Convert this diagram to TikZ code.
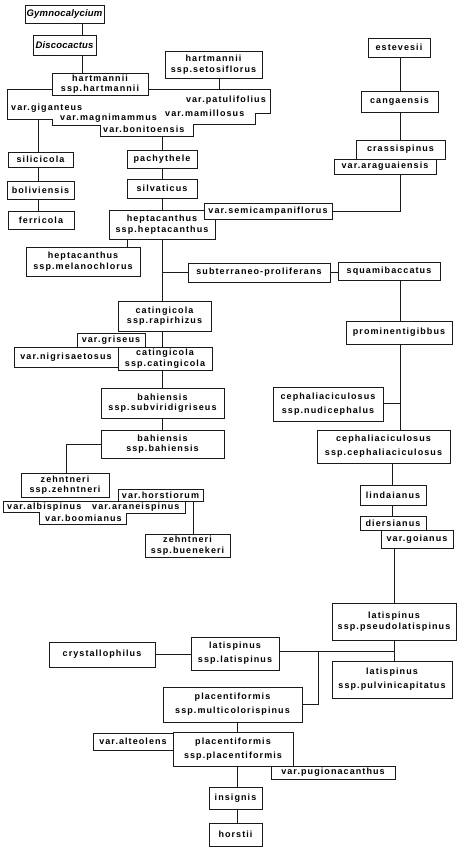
\documentclass[tikz,border=0pt]{standalone}
\usepackage{fontspec}
\newfontfamily\lbl{Liberation Sans}[LetterSpace=12]
\newfontfamily\ital{Liberation Sans}[LetterSpace=2]
\definecolor{ink}{HTML}{1A1A1A}
\tikzset{
  box/.style={draw=ink, line width=0.8pt, fill=white, inner sep=0pt, align=center,
    font=\lbl\bfseries\fontsize{9}{10.5}\selectfont},
  wide/.style={font=\lbl\bfseries\fontsize{9}{14}\selectfont},
  gen/.style={font=\ital\bfseries\itshape\fontsize{9.5}{11}\selectfont},
  lab/.style={inner sep=0pt, font=\lbl\bfseries\fontsize{9}{10.5}\selectfont},
  link/.style={draw=ink, line width=0.8pt},
  outline/.style={draw=ink, line width=0.8pt, fill=white},
}
% #1 options, #2 name, #3 x1, #4 y1, #5 x2, #6 y2, #7 text
\newcommand{\mybox}[7][]{%
  \node[box,#1,minimum width={(#5-#3)*1pt},minimum height={(#6-#4)*1pt}]
    (#2) at ({(#3+#5)/2},{(#4+#6)/2}) {#7};}
\begin{document}
\begin{tikzpicture}[x=1pt,y=-1pt]
\useasboundingbox (0,0) rectangle (458,850);
% helper coordinates for vertical connector lines
\coordinate (xA) at (82,0);
\coordinate (xL) at (38,0);
\coordinate (xM) at (162,0);
\coordinate (xH) at (127,0);
\coordinate (xR) at (400,0);
\coordinate (xC) at (392,0);
\coordinate (xD) at (394,0);
\coordinate (xP) at (237,0);
\coordinate (xZ) at (66,0);
\coordinate (xB) at (193,0);
\coordinate (vT) at (219,89);
\coordinate (vL) at (38,119);
\coordinate (vB) at (162,136);
\coordinate (jn) at (394,651);
\coordinate (br) at (318,651);

% compound variety outlines
\draw[outline] (7,89) -- (270,89) -- (270,113) -- (255,113) -- (255,124) -- (193,124)
  -- (193,136) -- (100,136) -- (100,125) -- (52,125) -- (52,119) -- (7,119) -- cycle;
\draw[outline] (3,501) -- (185,501) -- (185,513) -- (126,513) -- (126,524) -- (39,524)
  -- (39,512) -- (3,512) -- cycle;

% connectors passing behind boxes
\draw[link] (vL) -- (38,152);
\draw[link] (vB) -- (162,150);
\draw[link] (400,174) |- (332,211);
\draw[link] (162,239) -- (162,301);
\draw[link] (162,272.5) -- (188,272.5);
\draw[link] (400,280) -- (400,430);
\draw[link] (383,403) -- (400,403);
\draw[link] (394,548) -- (394,661);
\draw[link] (279,651) -- (jn);
\draw[link] (br) |- (302,704.5);
\draw[link] (101,444) -| (66,473);
\draw[link] (193,501) -- (193,534);

% nodes
\mybox[gen]{gym}{25}{5}{104}{23}{Gymnocalycium}
\mybox[gen]{disco}{33}{35}{96}{55}{Discocactus}
\mybox{hart}{52}{73}{148}{95}{hartmannii\\ssp.hartmannii}
\mybox{seto}{165}{51}{262}{78}{hartmannii\\ssp.setosiflorus}
\mybox{estev}{368}{38}{430}{57}{estevesii}
\mybox{canga}{361}{91}{438}{112}{cangaensis}
\mybox{crass}{356}{140}{445}{159}{crassispinus}
\mybox{arag}{334}{159}{436}{174}{var.araguaiensis}
\mybox{sili}{8}{152}{73}{167}{silicicola}
\mybox{boli}{7}{181}{74}{199}{boliviensis}
\mybox{ferr}{8}{211}{74}{229}{ferricola}
\mybox{pachy}{127}{150}{197}{168}{pachythele}
\mybox{silv}{127}{179}{197}{198}{silvaticus}
\mybox{hepta}{109}{210}{215}{239}{heptacanthus\\ssp.heptacanthus}
\mybox{semi}{204}{203}{332}{219}{var.semicampaniflorus}
\mybox{melano}{26}{247}{140}{276}{heptacanthus\\ssp.melanochlorus}
\mybox{subter}{188}{263}{330}{282}{subterraneo-proliferans}
\mybox{squami}{338}{262}{440}{280}{squamibaccatus}
\mybox{rapir}{118}{301}{211}{331}{catingicola\\ssp.rapirhizus}
\mybox{gris}{77}{333}{145}{347}{var.griseus}
\mybox{nigri}{14}{347}{118}{367}{var.nigrisaetosus}
\mybox{cating}{118}{347}{212}{370}{catingicola\\ssp.catingicola}
\mybox{subvir}{101}{388}{224}{418}{bahiensis\\ssp.subviridigriseus}
\mybox{bahi}{101}{430}{224}{458}{bahiensis\\ssp.bahiensis}
\mybox{zehnt}{21}{473}{109}{497}{zehntneri\\ssp.zehntneri}
\mybox{horst}{118}{489}{203}{501}{var.horstiorum}
\mybox{buenek}{145}{534}{230}{557}{zehntneri\\ssp.buenekeri}
\mybox{promin}{346}{321}{452}{344}{prominentigibbus}
\mybox[wide]{nudi}{273}{387}{383}{421}{cephaliaciculosus\\ssp.nudicephalus}
\mybox[wide]{ceph}{317}{430}{450}{463}{cephaliaciculosus\\ssp.cephaliaciculosus}
\mybox{linda}{360}{485}{426}{505}{lindaianus}
\mybox{diers}{360}{516}{426}{530}{diersianus}
\mybox{goian}{381}{530}{453}{548}{var.goianus}
\mybox{pseudo}{332}{603}{456}{640}{latispinus\\ssp.pseudolatispinus}
\mybox[wide]{pulvin}{332}{661}{452}{698}{latispinus\\ssp.pulvinicapitatus}
\mybox{crystal}{49}{642}{155}{667}{crystallophilus}
\mybox[wide]{latis}{191}{637}{279}{670}{latispinus\\ssp.latispinus}
\mybox[wide]{multi}{163}{687}{302}{722}{placentiformis\\ssp.multicolorispinus}
\mybox[wide]{placent}{173}{732}{293}{766}{placentiformis\\ssp.placentiformis}
\mybox{alteol}{93}{733}{173}{750}{var.alteolens}
\mybox{pugion}{271}{766}{395}{779}{var.pugionacanthus}
\mybox{insig}{209}{787}{262}{809}{insignis}
\mybox{horstii}{209}{823}{262}{846}{horstii}

% variety labels in the compound outlines
\node[lab, anchor=west] (gig) at (11,108) {var.giganteus};
\node[lab, anchor=west] (magn) at (60,118) {var.magnimammus};
\node[lab, anchor=west] (boni) at (103,129) {var.bonitoensis};
\node[lab, anchor=east] (patu) at (266,100) {var.patulifolius};
\node[lab, anchor=west] (mami) at (165,113) {var.mamillosus};
\node[lab, anchor=west] (albi) at (7,507) {var.albispinus};
\node[lab, anchor=west] (aran) at (92,507) {var.araneispinus};
\node[lab, anchor=west] (boom) at (45,518) {var.boomianus};

% connectors between named boxes
\draw[link] (seto.south -| vT) -- (vT);
\draw[link] (gym.south -| xA) -- (disco.north -| xA);
\draw[link] (disco.south -| xA) -- (hart.north -| xA);
\draw[link] (sili.south -| xL) -- (boli.north -| xL);
\draw[link] (boli.south -| xL) -- (ferr.north -| xL);
\draw[link] (pachy.south -| xM) -- (silv.north -| xM);
\draw[link] (silv.south -| xM) -- (hepta.north -| xM);
\draw[link] (estev.south -| xR) -- (canga.north -| xR);
\draw[link] (canga.south -| xR) -- (crass.north -| xR);
\draw[link] (hepta.south -| xH) -- (melano.north -| xH);
\draw[link] (subter.east) -- (subter.east -| squami.west);
\draw[link] (rapir.south -| xM) -- (cating.north -| xM);
\draw[link] (cating.south -| xM) -- (subvir.north -| xM);
\draw[link] (subvir.south -| xM) -- (bahi.north -| xM);
\draw[link] (ceph.south -| xC) -- (linda.north -| xC);
\draw[link] (linda.south -| xC) -- (diers.north -| xC);
\draw[link] (crystal.east) -- (crystal.east -| latis.west);
\draw[link] (multi.south -| xP) -- (placent.north -| xP);
\draw[link] (placent.south -| xP) -- (insig.north -| xP);
\draw[link] (insig.south -| xP) -- (horstii.north -| xP);
\end{tikzpicture}
\end{document}
